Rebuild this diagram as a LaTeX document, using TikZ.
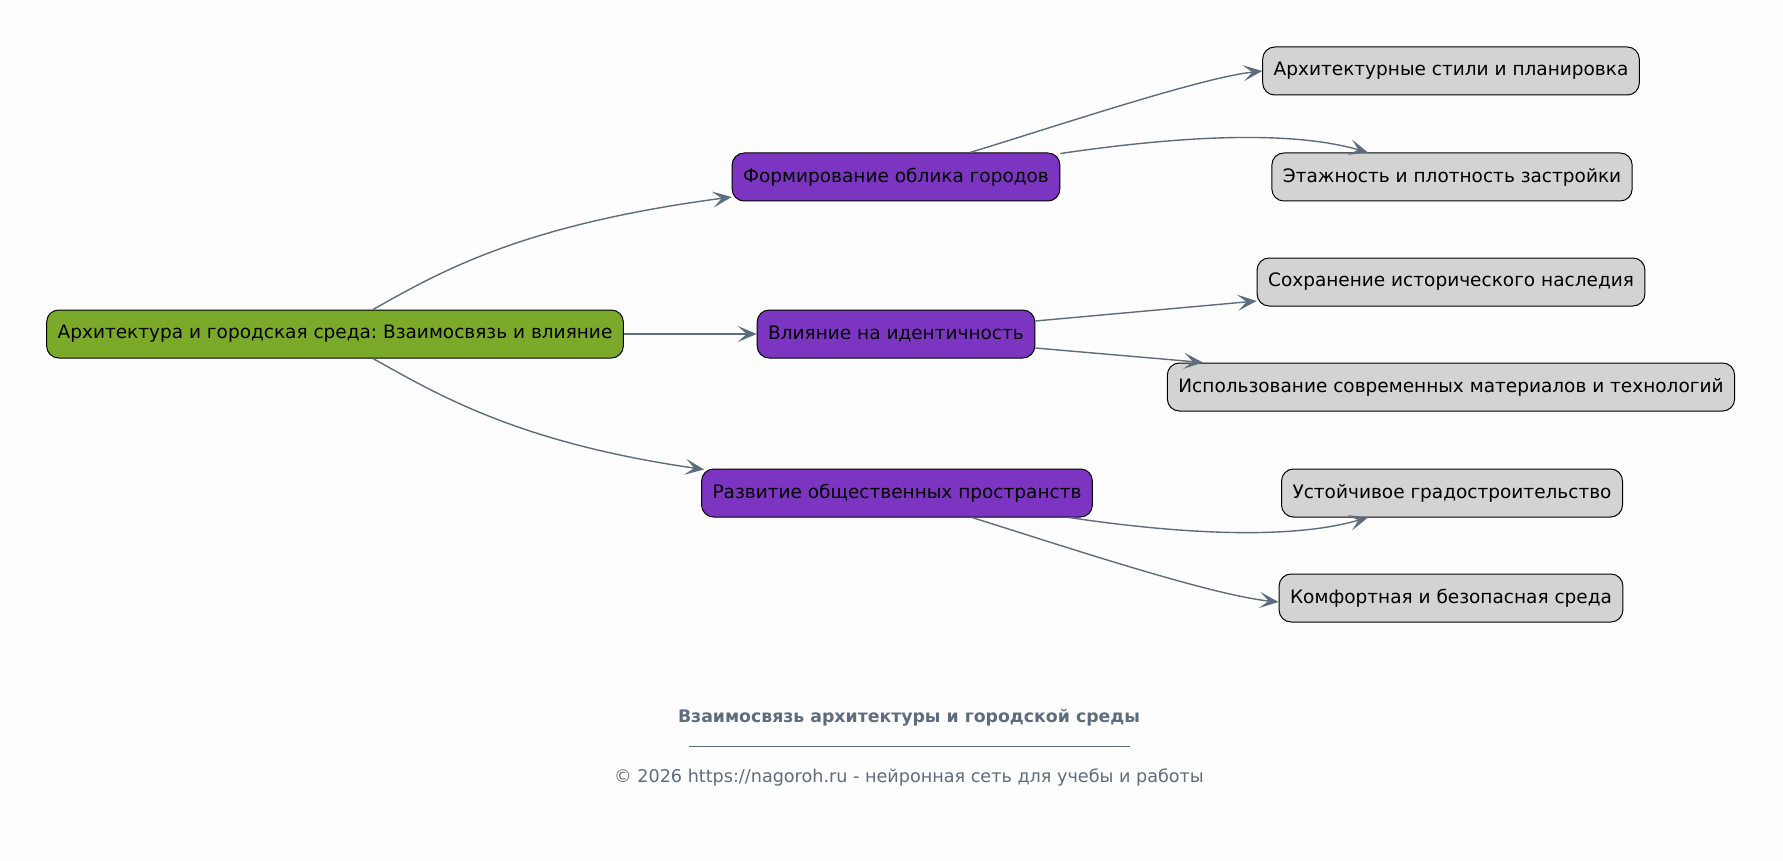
\documentclass[tikz,border=0pt]{standalone}
\usepackage{fontspec}
\setmainfont{DejaVu Sans}
\usetikzlibrary{arrows.meta,calc}
\frenchspacing

\definecolor{rootgreen}{RGB}{123,170,42}
\definecolor{topicviolet}{RGB}{123,53,193}
\definecolor{leafgray}{RGB}{211,211,211}
\definecolor{linkslate}{RGB}{93,109,126}
\definecolor{paper}{RGB}{253,253,253}

\tikzset{
	mindpicture/.style = {
		x = 1pt,
		y = -1pt,
		link/.style = {
			draw = linkslate,
			line width = 1.4pt,
			-{Stealth[length=19pt,width=16pt,inset=9pt]},
		}
	},
	mindnode/.style = {
		draw = black,
		line width = 1pt,
		rounded corners = 12pt,
		minimum height = 48pt,
		inner xsep = 11pt,
		font = \fontsize{18.5}{22}\selectfont
	},
	rootnode/.style = {
		mindnode,
		fill = rootgreen
	},
	topicnode/.style = {
		mindnode,
		fill = topicviolet
	},
	leafnode/.style = {
		mindnode,
		fill = leafgray
	}
}

\begin{document}
\begin{tikzpicture}[mindpicture]
	\fill[paper] (0,0) rectangle (1783,861);
	\useasboundingbox (0,0) rectangle (1783,861);

	\node[rootnode] (root) at (335,334) {Архитектура и городская среда: Взаимосвязь и влияние};

	\node[topicnode] (form) at (896,177) {Формирование облика городов};
	\node[topicnode] (ident) at (896,334) {Влияние на идентичность};
	\node[topicnode] (space) at (897,493) {Развитие общественных пространств};

	\node[leafnode] (styles) at (1451,71) {Архитектурные стили и планировка};
	\node[leafnode] (floors) at (1452,177) {Этажность и плотность застройки};
	\node[leafnode] (heritage) at (1451,282) {Сохранение исторического наследия};
	\node[leafnode] (materials) at (1451,387) {Использование современных материалов и технологий};
	\node[leafnode] (sustain) at (1452,493) {Устойчивое градостроительство};
	\node[leafnode] (comfort) at (1451,598) {Комфортная и безопасная среда};

	\begin{scope}[every path/.style = link]
		\path ($(root.north)+(38,0)$) .. controls (440,272) and (520,225) .. ($(form.west)+(0,20)$);
		\path (root.east) -- (ident.west);
		\path ($(root.south)+(38,0)$) .. controls (440,396) and (520,443) .. ($(space.north west)+(3,1)$);

		\path ($(form.north)+(74,0)$) .. controls (1060,125) and (1200,78) .. (styles.west);
		\path ($(form.north east)+(0,1)$) .. controls (1180,136) and (1290,130) .. ($(floors.north)+(-84,0)$);

		\path ($(ident.east)+(0,-13)$) -- ($(heritage.west)+(0,19)$);
		\path ($(ident.east)+(0,14)$) -- ($(materials.north west)+(36,0)$);

		\path ($(space.south east)+(-24,0)$) .. controls (1180,534) and (1290,540) .. ($(sustain.south)+(-84,0)$);
		\path ($(space.south)+(75,0)$) .. controls (1060,545) and (1210,595) .. ($(comfort.west)+(0,4)$);
	\end{scope}

	% caption
	\node[text = linkslate, font = \bfseries\fontsize{17.3}{20}\selectfont] (title) at (909,718) {Взаимосвязь архитектуры и городской среды};
	\draw[linkslate, line width = 0.8pt] (689,746) -- (1130,746);
	\node[text = linkslate, font = \fontsize{17.6}{20}\selectfont] (footer) at (909,777) {© 2026 https://nagoroh.ru - нейронная сеть для учебы и работы};
\end{tikzpicture}
\end{document}
